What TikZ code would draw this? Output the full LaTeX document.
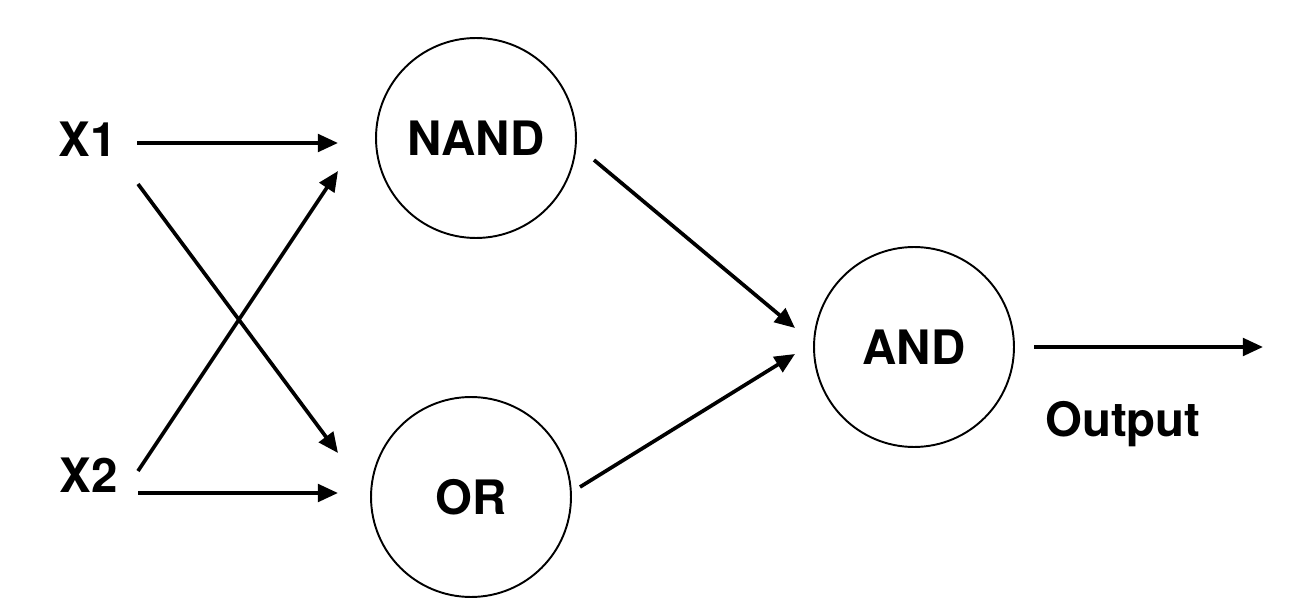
\documentclass[tikz,border=0pt]{standalone}
\usepackage{fontspec}
\setmainfont{TeX Gyre Heros}
\usetikzlibrary{arrows.meta}
\begin{document}
\begin{tikzpicture}[x=0.02cm, y=-0.02cm, >={Triangle[length=11.5pt, width=10pt]}]
	\tikzstyle{gate} = [circle, minimum size=4cm, inner sep=0pt, draw=black, line width=1.1pt, font=\fontsize{27}{32}\selectfont\bfseries]
	\tikzstyle{term} = [inner sep=0pt, font=\fontsize{27}{32}\selectfont\bfseries]
	\tikzstyle{wire} = [->, line width=2.1pt]

	\useasboundingbox (0,0) rectangle (1316,598);

	\foreach \name/\x/\y in {NAND/476/138, OR/471/497, AND/914/347}
		\node[gate] (\name) at (\x, \y) {\name};
	\foreach \name/\x/\y/\txt in {X1/88/139/X1, X2/89/475/X2, out/1123/424/Output}
		\node[term] (\name) at (\x, \y) {\txt};

	% ends of the wires
	\foreach \name/\x/\y in {x1a/137/143, x1b/138/184, x2a/138/471, x2b/138/493, nandA/338/143, nandB/338/171, orA/338/453, orB/338/493, nandO/594/160, orO/580/487, andA/795/328, andB/795/354, andO/1034/347, outE/1263/347}
		\coordinate (\name) at (\x, \y);

	\foreach \from/\to in {x1a/nandA, x1b/orA, x2a/nandB, x2b/orB, nandO/andA, orO/andB, andO/outE}
		\draw[wire] (\from) -- (\to);

\end{tikzpicture}
\end{document}
